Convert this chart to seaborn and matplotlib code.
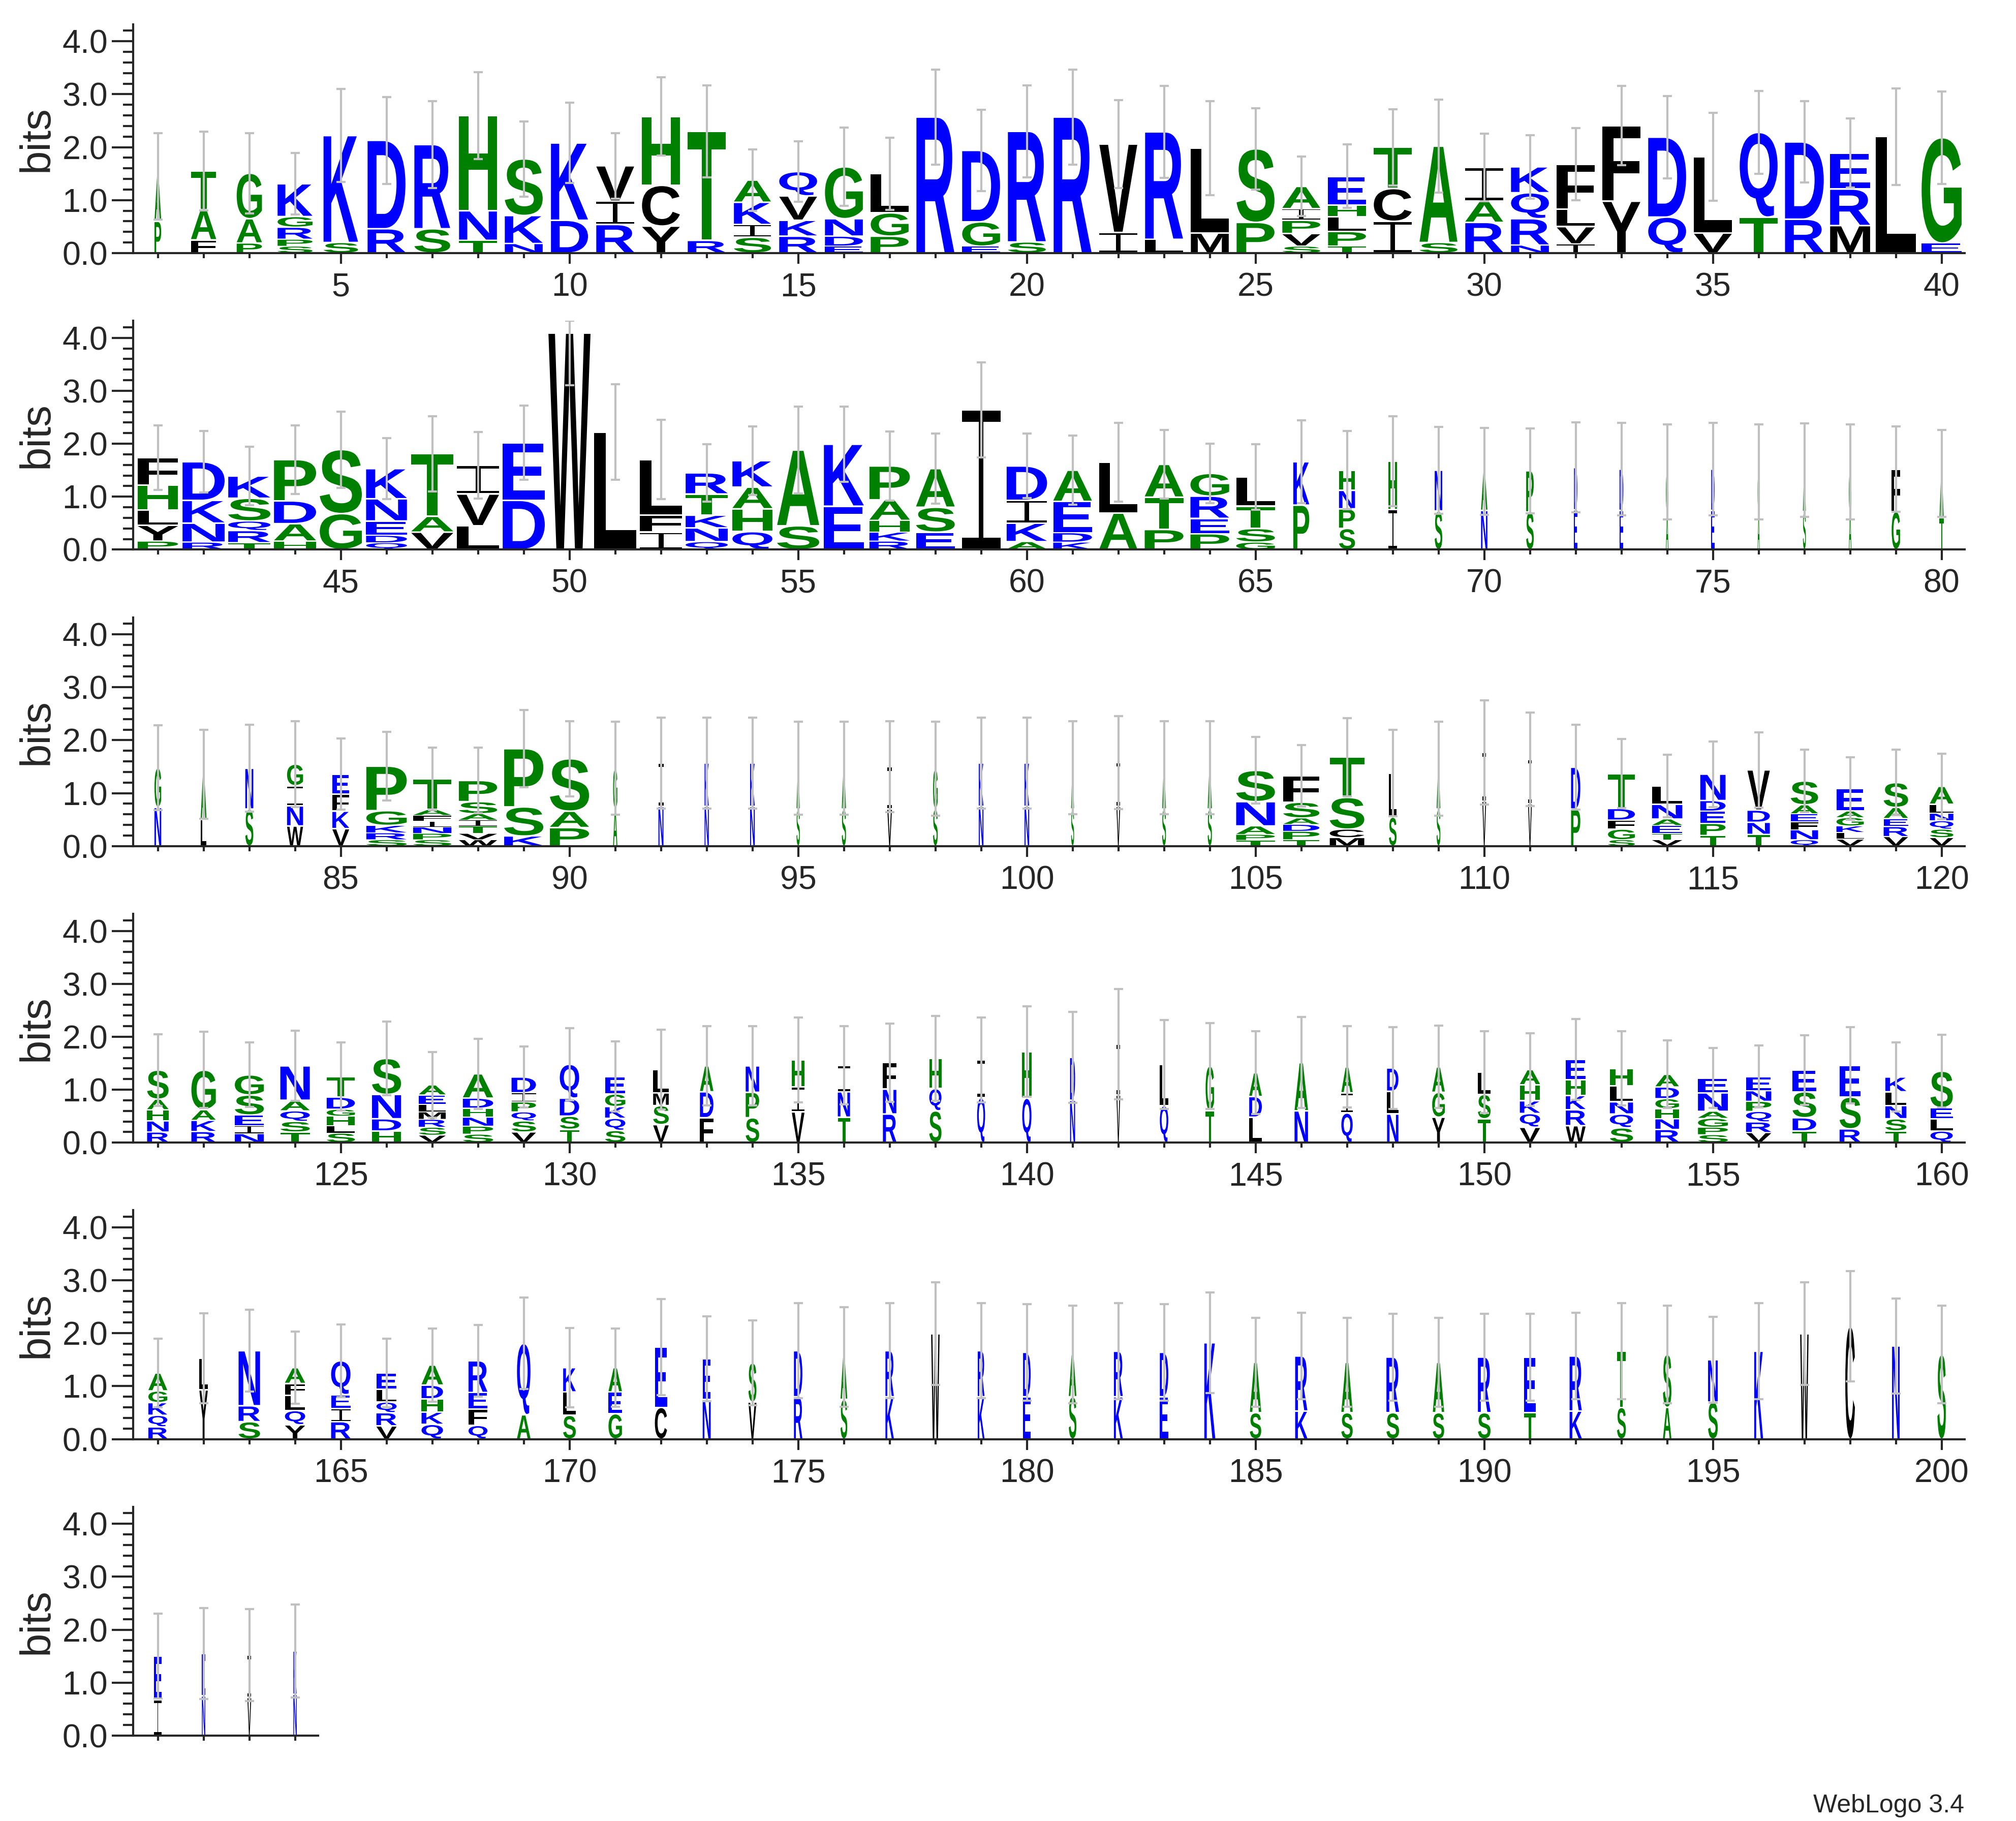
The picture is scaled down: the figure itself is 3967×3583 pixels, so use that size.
import numpy as np
import matplotlib
matplotlib.use("Agg")
import matplotlib.pyplot as plt
import seaborn as sns
from matplotlib.textpath import TextPath
from matplotlib.font_manager import FontProperties
from matplotlib.patches import PathPatch
from matplotlib.path import Path
from matplotlib.transforms import Affine2D

# ---------------- data (letter+height in bits, bottom -> top) ----------------
stacks_001_040 = [
    "P.60 A.85", "F.25 A.57 T.73", "P.19 A.46 G.86", "S.13 P.13 R.23 G.20 K.62",
    "S.20 K2.02", "R.46 D1.67", "S.46 R1.59", "T.24 N.56 H1.80", "N.18 K.53 S1.07",
    "D.62 K1.46", "R.54 I.44 V.67", "Y.51 C.77 H1.30", "R.24 T2.06", "S.30 I.24 K.42 A.42",
    "R.32 K.30 V.46 Q.46", "E.13 D.19 N.33 G.98", "P.32 G.44 L.74", "R2.57", "E.13 G.46 D1.35",
    "S.21 R2.09", "R2.57", "I.39 V1.67", "L.26 R2.03", "M.38 L1.60", "P.58 S1.39",
    "S.13 V.24 P.25 I.22 A.42", "T.13 P.28 L.28 H.22 E.54", "I.60 C.62 T.78", "S.20 A1.82",
    "R.58 A.40 I.64", "N.15 R.50 Q.49 K.49", "I.17 V.33 L.33 F.85", "Y.98 F1.43", "Q.68 D1.51",
    "V.38 L1.44", "T.68 Q1.60", "R.64 D1.46", "M.52 R.69 E.68", "L2.20", "E.19 G1.99",
]
widths_001_040 = [.16, .60, .60, .83, .82, .90, .85, .90, .90, .88, .90, .90, .90, .88, .90, .90, .90, .90, .90, .90,
                  .90, .90, .90, .90, .90, .90, .90, .90, .90, .90, .90, .90, .90, .90, .90, .90, .92, .95, .95, .95]
errors_001_040 = [.82, .74, .76, .58, .88, .82, .82, .82, .71, .76, .62, .74, .87, .58, .57, .74, .68, .90, .77, .87,
                  .90, .83, .87, .89, .77, .56, .60, .72, .88, .64, .60, .68, .75, .78, .83, .78, .77, .65, .91, .87]

stacks_041_080 = [
    "P.16 Y.30 L.29 H.47 F.52", "R.14 N.36 K.43 D.73", "T.13 R.23 Q.18 S.43 K.42", "H.16 A.33 D.43 P.78",
    "G.68 S1.21", "Q.13 D.14 E.27 N.42 K.57", "V.33 A.30 T1.18", "L.45 V.60 I.54", "D.93 E1.09",
    "W4.09", "L2.22", "I.33 F.32 L1.05", "Q.15 N.26 K.24 T.40 R.40", "Q.34 H.43 A.41 K.50",
    "S.45 A1.43", "E.82 K1.17", "R.16 K.17 H.22 A.39 P.64", "E.33 S.47 A.73", "I2.64",
    "A.15 K.35 I.43 D.65", "K.14 D.18 E.59 A.59", "A.69 L.96", "P.38 T.61 A.62", "P.30 E.29 R.42 G.43",
    "G.14 S.26 T.42 L.55", "P.84 K.82", "S.40 P.37 N.35 H.38", "I.76 H.91", "S.73 N.77", "N.74 A.74",
    "S.71 P.78", "E.75 D.80", "E.74 D.78", "A.70 G.77", "E.74 D.78", "A.70 G.77", "S.72 A.78",
    "A.70 G.77", "G.72 F.80", "T.60 A.84",
]
widths_041_080 = [.96, 1.0, 1.0, 1.0, 1.0, .97, 1.0, 1.0, 1.0, 1.0, 1.0, 1.0, 1.0, .95, 1.0, .95, .96, .92, .92, .96,
                  .92, .90, .92, .92, .92, .38, .38, .20, .18, .15, .18, .08, .09, .06, .08, .05, .07, .06, .20, .10]
errors_041_080 = [.61, .58, .55, .65, .72, .58, .71, .63, .70, .99, .90, .75, .54, .65, .82, .71, .65, .66, .90, .61,
                  .65, .74, .65, .56, .62, .78, .74, .85, .82, .82, .80, .85, .87, .90, .87, .90, .88, .90, .81, .82]

stacks_081_120 = [
    "N.73 G.75", "L.50 A.86", "S.70 N.77", "W.38 N.38 I.38 G.41", "V.33 K.33 F.32 E.38",
    "S.12 R.13 K.14 G.28 P.84", "S.12 P.12 N.12 I.11 F.11 A.11 T.58", "W.12 V.12 T.14 I.11 A.12 S.23 P.40",
    "K.19 S.55 P1.10", "P.35 A.31 S.99", "A.70 G.77", "N.75 I.82", "N.75 K.82", "N.75 K.82",
    "S.70 A.77", "S.70 A.77", "V.70 I.80", "S.70 G.76", "N.75 K.82", "N.75 K.82",
    "S.70 A.78", "V.75 I.83", "S.70 A.78", "S.70 A.78", "T.11 P.11 A.16 N.46 S.59",
    "T.12 P.16 D.13 A.12 S.30 F.50", "M.16 C.16 S.60 T.76", "S.55 L.83", "S.70 A.76", "V.85 I.92",
    "V.80 I.84", "P.70 D.79", "S.12 G.20 F.17 D.22 T.66", "V.12 T.12 E.15 A.12 N.28 L.35",
    "T.20 P.23 E.23 D.20 N.50", "T.22 N.23 D.23 V.76", "Q.12 N.19 F.15 E.15 A.17 S.45",
    "V.13 L.13 K.12 G.16 A.12 E.43", "V.18 R.19 E.15 A.21 S.47", "V.16 S.16 Q.16 N.14 L.17 A.34",
]
widths_081_120 = [.16, .14, .19, .38, .40, .96, .91, .91, .93, .93, .10, .12, .10, .11, .08, .10, .11, .11, .11, .11,
                  .07, .09, .09, .10, .92, .86, .82, .18, .09, .09, .09, .22, .64, .72, .60, .53, .65, .65, .58, .56]
errors_081_120 = [.80, .84, .82, .81, .67, .65, .59, .62, .73, .71, .88, .86, .86, .86, .88, .88, .86, .89, .86, .86,
                  .88, .88, .88, .88, .63, .58, .74, .82, .89, .98, .88, .80, .65, .59, .62, .71, .59, .59, .62, .62]

stacks_121_160 = [
    "R.20 N.21 H.21 A.20 S.55", "R.21 K.21 A.20 G.75", "N.17 I.15 E.20 S.38 G.38", "T.20 S.20 Q.20 A.20 N.65",
    "S.18 L.14 H.18 G.13 D.23 T.39", "H.22 D.23 N.46 S.68", "V.14 S.15 R.15 M.14 L.14 E.18 A.19",
    "S.16 P.15 N.17 H.17 D.19 A.46", "V.20 S.21 Q.17 P.19 I.17 D.30", "T.25 S.25 D.34 Q.64",
    "S.23 Q.23 K.22 G.24 E.33", "V.34 S.36 M.24 L.44", "F.47 D.49 A.49", "S.47 P.48 N.50",
    "V.58 I.47 H.51", "T.48 N.48 I.50", "R.54 N.47 F.50", "S.60 Q.42 H.57", "Q.85 I.71", "Q.84 H.88",
    "N.80 D.81", "V.90 I.96", "Q.70 L.78", "T.60 G.85", "L.48 D.39 A.45", "N.60 A.91", "Q.56 I.38 A.49",
    "N.54 L.43 D.44", "Y.48 G.47 A.48", "T.45 S.46 L.42", "V.29 Q.26 K.24 H.30 A.29",
    "W.32 R.30 K.27 H.30 E.38", "S.28 Q.26 N.23 L.30 H.33", "R.25 N.20 H.19 G.19 D.22 A.24",
    "S.15 P.14 G.17 A.13 N.35 E.28", "V.19 R.20 Q.20 P.19 N.20 E.27", "T.22 D.25 S.49 E.41",
    "R.26 S.60 E.60", "T.22 S.23 N.25 L.26 K.28", "Q.22 L.23 E.21 S.69",
]
widths_121_160 = [.51, .58, .69, .70, .67, .69, .64, .72, .58, .46, .48, .37, .32, .32, .30, .29, .32, .29, .19, .22,
                  .12, .09, .20, .20, .30, .32, .27, .27, .30, .30, .48, .47, .55, .56, .71, .60, .56, .50, .50, .53]
errors_121_160 = [.68, .72, .61, .66, .64, .70, .62, .66, .58, .68, .66, .75, .75, .75, .80, .74, .74, .80, .80, .85,
                  .86, 1.04, .84, .81, .78, .86, .77, .77, .78, .77, .69, .76, .70, .64, .57, .59, .66, .72, .65, .69]

stacks_161_200 = [
    "R.23 Q.22 K.24 G.22 A.34", "Y.93 L.60", "S.33 R.30 N1.04", "Y.27 Q.27 L.29 F.22 A.30",
    "R.33 I.25 E.26 Q.64", "V.25 R.25 Q.20 L.24 E.31", "Q.28 K.23 H.25 D.26 A.38", "Q.26 F.31 E.31 R.60",
    "A.46 Q1.35", "S.45 L.44 K.46", "G.48 E.41 A.46", "C.60 E1.14", "N.75 E.77", "V.70 S.74",
    "R.80 D.87", "S.75 A.80", "K.80 R.87", "W1.99", "K.80 R.87", "E.80 D.84",
    "S.80 A.80", "K.80 R.86", "E.80 D.84", "K1.82", "S.50 A.95", "K.53 R1.04", "S.50 A.95",
    "S.50 R1.05", "S.50 A.95", "S.50 R1.05", "T.50 E1.05", "K.53 R1.04", "S.60 T1.06",
    "A.60 S1.00", "S.70 N.80", "K1.66", "W1.99", "C2.13", "N1.76", "S1.60",
]
widths_161_200 = [.45, .20, .51, .48, .46, .48, .51, .45, .32, .30, .32, .29, .19, .19, .20, .16, .20, .20, .16, .18,
                  .18, .21, .20, .26, .27, .29, .27, .30, .27, .30, .27, .29, .21, .20, .23, .21, .20, .23, .18, .20]
errors_161_200 = [.65, .85, .77, .68, .69, .65, .69, .68, .86, .75, .74, .91, .80, .80, .90, .94, .90, .97, .90, .91,
                  .92, .91, .91, .95, .84, .82, .84, .82, .84, .82, .82, .82, .91, .92, .81, .91, .97, 1.04, .90, .92]

stacks_201_204 = ["I.68 E.82", "N.75 E.80", "V.72 I.80", "N.78 K.82"]
widths_201_204 = [.18, .08, .09, .08]
errors_201_204 = [.80, .86, .87, .88]

rows = [
    (1, stacks_001_040, widths_001_040, errors_001_040),
    (41, stacks_041_080, widths_041_080, errors_041_080),
    (81, stacks_081_120, widths_081_120, errors_081_120),
    (121, stacks_121_160, widths_121_160, errors_121_160),
    (161, stacks_161_200, widths_161_200, errors_161_200),
    (201, stacks_201_204, widths_201_204, errors_201_204),
]

BLUE, GREEN, BLACK = "#0000FF", "#008000", "#000000"
COLORS = {}
for c in "RKDENQ":
    COLORS[c] = BLUE
for c in "SGHTAP":
    COLORS[c] = GREEN
for c in "YVMCLFIW":
    COLORS[c] = BLACK

MAX_BITS = np.log2(20)

# ---------------- style ----------------
sns.set_style("ticks")
plt.rcParams["font.family"] = ["Liberation Sans", "DejaVu Sans"]
plt.rcParams["axes.linewidth"] = 1.0

W, H, DPI = 3967, 3583, 300
fig = plt.figure(figsize=(W / DPI, H / DPI), dpi=DPI)
fig.patch.set_facecolor("white")

FP = FontProperties(family="Liberation Sans", weight="bold")
_cache = {}


def glyph(ch):
    if ch not in _cache:
        if ch == "I":
            # serif I as used by WebLogo
            verts = [(0, 0), (1, 0), (1, .08), (.56, .08), (.56, .92), (1, .92), (1, 1),
                     (0, 1), (0, .92), (.44, .92), (.44, .08), (0, .08), (0, 0)]
            p = Path(verts, closed=True)
        else:
            p = TextPath((0, 0), ch, size=1, prop=FP)
        _cache[ch] = (p, p.get_extents())
    return _cache[ch]


def draw_letter(ax, ch, xc, y0, w, h):
    p, ext = glyph(ch)
    tr = (Affine2D().translate(-ext.x0, -ext.y0)
          .scale(w / ext.width, h / ext.height)
          .translate(xc - w / 2, y0))
    ax.add_patch(PathPatch(tr.transform_path(p), facecolor=COLORS[ch],
                           edgecolor="none", lw=0, zorder=2))


def parse(s):
    return [(t[0], float(t[1:])) for t in s.split()]


LEFT_PX = 262
UNIT_PX = 90.0
BITS_PX = 104.17
ROW0_PX = 498.0
ROW_STEP = 583.4

for r, (start, stacks, widths, errors) in enumerate(rows):
    n = len(stacks)
    xlo, xhi = start - 0.54, start + n - 1 + 0.5
    z = ROW0_PX + ROW_STEP * r
    ax = fig.add_axes([LEFT_PX / W, 1 - z / H, (xhi - xlo) * UNIT_PX / W, MAX_BITS * BITS_PX / H])
    positions = np.arange(start, start + n)
    tops = []
    for x, s, wf in zip(positions, stacks, widths):
        y = 0.0
        for ch, h in parse(s):
            g = min(0.03, 0.12 * h)
            draw_letter(ax, ch, x, y + g / 2, 0.92 * wf, h - g)
            y += h
        tops.append(y)
    tops = np.array(tops)
    err = np.array(errors)
    upper = np.minimum(err, MAX_BITS - tops)
    ax.errorbar(positions, tops, yerr=[err, upper], fmt="none", ecolor="#C0C0C0",
                elinewidth=1.0, capsize=2.1, capthick=1.0, zorder=3)

    ax.set_xlim(xlo, xhi)
    ax.set_ylim(0, MAX_BITS)
    sns.despine(ax=ax)
    majors = [p for p in positions if p % 5 == 0]
    ax.set_xticks(majors)
    ax.set_xticklabels([str(p) for p in majors])
    ax.set_xticks(positions, minor=True)
    ax.set_yticks([0, 1, 2, 3, 4])
    ax.set_yticklabels(["0.0", "1.0", "2.0", "3.0", "4.0"])
    ax.set_yticks(np.arange(0.2, 4.3, 0.2), minor=True)
    ax.tick_params(axis="y", which="major", length=10, width=1.0, direction="out", labelsize=15.5, pad=2)
    ax.tick_params(axis="y", which="minor", length=4.8, width=1.0, direction="out")
    ax.tick_params(axis="x", which="major", length=5.0, width=1.0, direction="out", labelsize=15.5, pad=4)
    ax.tick_params(axis="x", which="minor", length=2.5, width=1.0, direction="out")
    ax.set_facecolor("white")
    fig.text(73 / W, 1 - (z - 225) / H, "bits", rotation=90, ha="center", va="center", fontsize=20)

fig.text(3865 / W, (H - 3566) / H, "WebLogo 3.4", ha="right", va="baseline", fontsize=12)

fig.savefig("out.png", dpi=DPI, facecolor="white")
